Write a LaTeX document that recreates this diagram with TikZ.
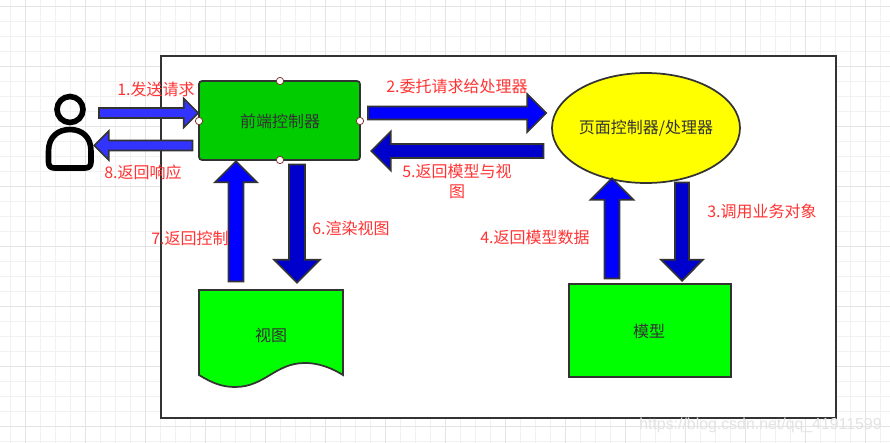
\documentclass[tikz,border=0pt]{standalone}
\usepackage{fontspec}
\setmainfont{Noto Sans CJK SC}
\newfontfamily\wmfont{Liberation Sans}
\usetikzlibrary{shapes.geometric,shapes.arrows}
\definecolor{edge}{HTML}{333333}
\definecolor{labelred}{HTML}{FF3333}
\definecolor{gridfine}{HTML}{F1F1F1}
\definecolor{gridbold}{HTML}{E4E4E4}
\definecolor{midblue}{HTML}{3333FF}
\definecolor{fullblue}{HTML}{0000FF}
\definecolor{darkblue}{HTML}{0000CC}
\definecolor{ctrlgreen}{HTML}{00CC00}
\definecolor{brightgreen}{HTML}{00FF00}
\definecolor{brightyellow}{HTML}{FFFF00}
\definecolor{handleedge}{HTML}{803030}
\tikzset{
  x=0.75pt,y=-0.75pt,
  shapebox/.style={draw=edge,line width=1.3pt,text=edge,font=\fontsize{12pt}{14pt}\selectfont,inner sep=0pt},
  plaintext/.style={text=edge,font=\fontsize{12pt}{14pt}\selectfont,inner sep=0pt},
  redlabel/.style={text=labelred,font=\fontsize{12pt}{15pt}\selectfont,align=center,inner sep=0pt},
  handle/.style={circle,draw=handleedge,fill=white,line width=0.6pt,minimum size=5.5pt,inner sep=0pt},
  blockarrow/.style n args={4}{shape=single arrow,draw=edge,line width=1.3pt,fill=#4,inner sep=0pt,outer sep=0pt,
    text height=#3*0.75pt-1.3pt,text depth=0pt,text width=0pt,
    minimum height=#1*0.75pt-1.3pt,
    single arrow tip angle=90,anchor=tail,
    single arrow head extend={(#2-#3)*0.375pt}},
}
\begin{document}
\begin{tikzpicture}
\useasboundingbox (0,0) rectangle (890,443);
\fill[white] (0,0) rectangle (890,443);
% grid
\foreach \gx in {10.5,25.5,...,890}{\draw[gridfine,line width=0.75pt] (\gx,0) -- (\gx,443);}
\foreach \gy in {6.5,21.5,...,443}{\draw[gridfine,line width=0.75pt] (0,\gy) -- (890,\gy);}
\foreach \gx in {25.5,85.5,...,890}{\draw[gridbold,line width=0.75pt] (\gx,0) -- (\gx,443);}
\foreach \gy in {6.5,66.5,...,443}{\draw[gridbold,line width=0.75pt] (0,\gy) -- (890,\gy);}
% frame
\node[draw=edge,fill=white,line width=1.5pt,minimum width=675*0.75pt,minimum height=362*0.75pt,inner sep=0pt] (frame) at (498.5,237) {};
% watermark
\node[text=black!11,font=\wmfont\fontsize{11.9pt}{14pt}\selectfont,inner sep=0pt] (mark) at (760.5,425) {https://blog.csdn.net/qq\_41911599};
% person
\draw[black,line width=4.2pt] (70,109.5) circle (13);
\draw[black,line width=4.2pt,line join=round] (48.5,151) .. controls (48.5,137) and (58,129.5) .. (70,129.5) .. controls (82,129.5) and (91,137) .. (91,151) -- (91,162) .. controls (91,166) and (89,168) .. (85,168) -- (54.5,168) .. controls (50.5,168) and (48.5,166) .. (48.5,162) -- cycle;
% shapes
\node[draw=edge,line width=1.3pt,fill=ctrlgreen,rounded corners=2.25pt,minimum width=161*0.75pt,minimum height=79*0.75pt,inner sep=0pt] (front) at (279.5,120.5) {};
\node[plaintext] (fronttext) at (280,121) {前端控制器};
\node[draw=edge,line width=1.3pt,ellipse,fill=brightyellow,minimum width=188*0.75pt,minimum height=110*0.75pt,inner sep=0pt] (page) at (646,128) {};
\node[plaintext] (pagetext) at (646,128.5) {页面控制器/处理器};
\node[shapebox,fill=brightgreen,minimum width=162*0.75pt,minimum height=93*0.75pt] (model) at (650,330.5) {};
\node[plaintext] (modeltext) at (649,331) {模型};
\draw[edge,fill=brightgreen,line width=1.3pt] (199,290) -- (343,290) -- (343,375) .. controls (325,364) and (312,363) .. (305,363) .. controls (275,363) and (265,387) .. (235,387) .. controls (222,387) and (212,383) .. (199,375) -- cycle;
\node[plaintext] (view) at (271,335) {视图};
% handles
\node[handle] (h1) at (280,81) {};
\node[handle] (h2) at (199,121) {};
\node[handle] (h3) at (360,121) {};
\node[handle] (h4) at (280,160) {};
% arrows
\node[blockarrow={101}{29}{10}{midblue}] (a1) at (99,113) {};
\node[blockarrow={100}{29}{10}{midblue},rotate=180] (a8) at (192.5,145.5) {};
\node[blockarrow={180}{38}{13}{fullblue}] (a2) at (368,113) {};
\node[blockarrow={174}{39}{14}{darkblue},rotate=180] (a5) at (543.5,151) {};
\node[blockarrow={122}{42}{15}{fullblue},rotate=90] (a7) at (236,281.5) {};
\node[blockarrow={120}{46}{16}{darkblue},rotate=-90] (a6) at (297,164.5) {};
\node[blockarrow={102}{43}{15}{fullblue},rotate=90] (a4) at (612,278.5) {};
\node[blockarrow={100}{42}{14}{darkblue},rotate=-90] (a3) at (682,182.5) {};
% labels
\node[redlabel] (l1) at (156,89) {1.发送请求};
\node[redlabel] (l8) at (143,172) {8.返回响应};
\node[redlabel] (l7) at (190,238) {7.返回控制};
\node[redlabel] (l6) at (351,228) {6.渲染视图};
\node[redlabel] (l2) at (457,86) {2.委托请求给处理器};
\node[redlabel] (l5) at (457,181) {5.返回模型与视\\图};
\node[redlabel] (l3) at (762,211) {3.调用业务对象};
\node[redlabel] (l4) at (535,237) {4.返回模型数据};
\end{tikzpicture}
\end{document}
